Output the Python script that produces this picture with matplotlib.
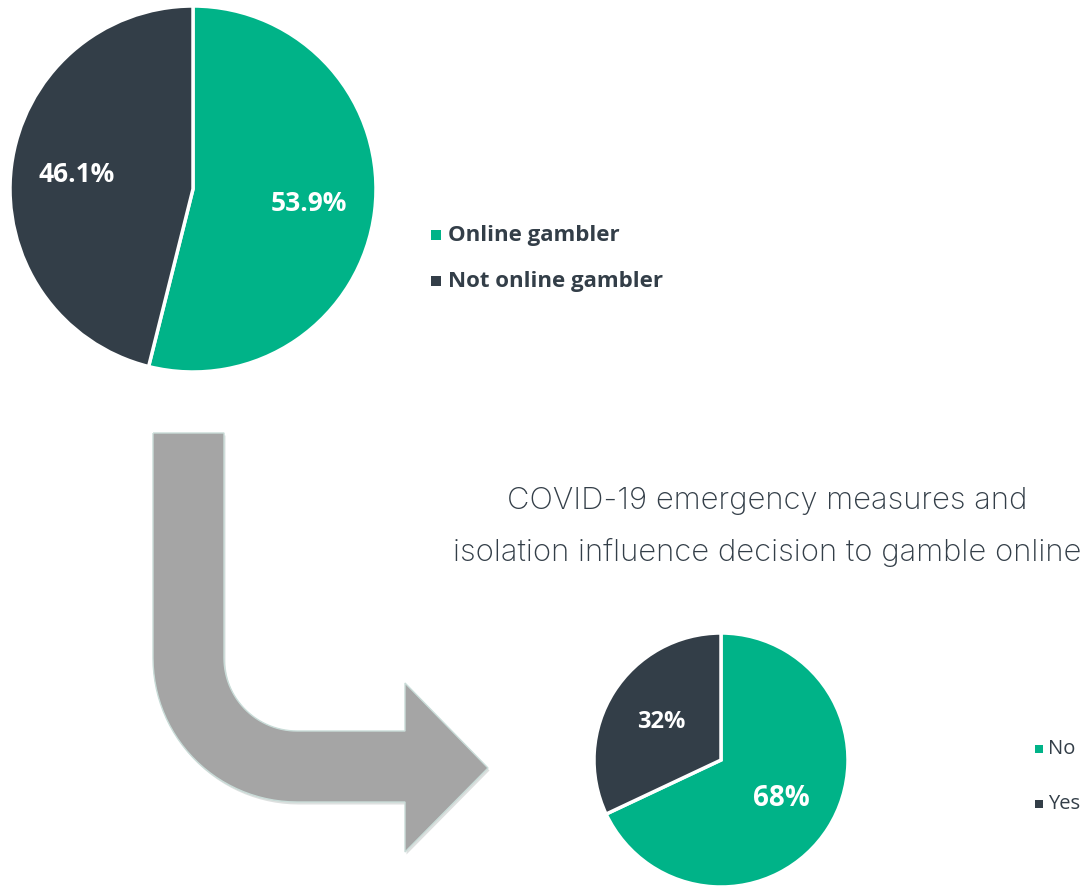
import numpy as np
import matplotlib
matplotlib.use("Agg")
import matplotlib.pyplot as plt
from matplotlib.path import Path
from matplotlib.patches import PathPatch, Rectangle

# data
top_labels = ["Online gambler", "Not online gambler"]
top_values = [53.9, 46.1]
bottom_labels = ["No", "Yes"]
bottom_values = [68, 32]
title = "COVID-19 emergency measures and\nisolation influence decision to gamble online"

GREEN = "#00B388"
DARK = "#333E48"
TEXT = "#333E48"
W, H = 1088, 886

fig = plt.figure(figsize=(W / 100, H / 100), dpi=100)
fig.patch.set_facecolor("white")

# overlay axes in pixel coordinates (y going down) for arrow
bg = fig.add_axes([0, 0, 1, 1])
bg.set_xlim(0, W)
bg.set_ylim(H, 0)
bg.axis("off")

def fx(x):
    return x / W

def fy(y):
    return 1 - y / H

# bent arrow
cx, cy = 297, 658
t = np.linspace(np.pi, np.pi / 2, 30)
inner = np.column_stack([cx + 73 * np.cos(t), cy + 73 * np.sin(t)])
outer = np.column_stack([cx + 144 * np.cos(t), cy + 144 * np.sin(t)])[::-1]
pts = [(153, 433), (224, 433)] + [tuple(p) for p in inner] + \
      [(405, 731), (405, 683), (488, 768), (405, 852), (405, 802)] + \
      [tuple(p) for p in outer] + [(153, 433)]
pts = np.array(pts)
shadow = PathPatch(Path(pts + [1.5, 2.5]), facecolor="#8f9a98", edgecolor="none", alpha=0.3, zorder=1)
bg.add_patch(shadow)
arrow = PathPatch(Path(pts), facecolor="#A5A5A5", edgecolor="#c9dcd8", linewidth=1.0, zorder=2)
bg.add_patch(arrow)

# pie 1
ax1 = fig.add_axes([fx(10), fy(372), 366 / W, 366 / H])
w1, t1, a1 = ax1.pie(top_values, colors=[GREEN, DARK], startangle=90, counterclock=False,
                     autopct=lambda p: f"{p:.1f}%", pctdistance=0.64,
                     wedgeprops=dict(edgecolor="white", linewidth=2.5))
for a in a1:
    a.set_color("white")
    a.set_fontsize(19)
    a.set_fontweight("bold")
    a.set_fontfamily("Open Sans")
ax1.set_xlim(-1, 1)
ax1.set_ylim(-1, 1)

# pie 2
ax2 = fig.add_axes([fx(594), fy(887), 254 / W, 254 / H])
w2, t2, a2 = ax2.pie(bottom_values, colors=[GREEN, DARK], startangle=90, counterclock=False,
                     autopct=lambda p: f"{p:.0f}%", pctdistance=0.56,
                     wedgeprops=dict(edgecolor="white", linewidth=2.5))
for a, s in zip(a2, [20, 17]):
    a.set_color("white")
    a.set_fontsize(s)
    a.set_fontweight("bold")
    a.set_fontfamily("Open Sans")
ax2.set_xlim(-1, 1)
ax2.set_ylim(-1, 1)

# legend 1
for lab, col, y in zip(top_labels, [GREEN, DARK], [235, 281]):
    bg.add_patch(Rectangle((431, y - 5), 10, 10, facecolor=col, edgecolor="none"))
    bg.text(448, y, lab, fontsize=16, fontweight="bold", family="Open Sans",
            color=TEXT, va="center", ha="left")

# legend 2
for lab, col, y in zip(bottom_labels, [GREEN, DARK], [749, 804]):
    bg.add_patch(Rectangle((1035, y - 4), 8, 8, facecolor=col, edgecolor="none"))
    bg.text(1048, y, lab, fontsize=14.5, family="Open Sans",
            color=TEXT, va="center", ha="left")

# title
bg.text(767, 527, title, fontsize=22.3, family="Inter", fontweight="light",
        color=TEXT, ha="center", va="center", linespacing=1.98)

fig.savefig("out.png", dpi=100, facecolor="white")
